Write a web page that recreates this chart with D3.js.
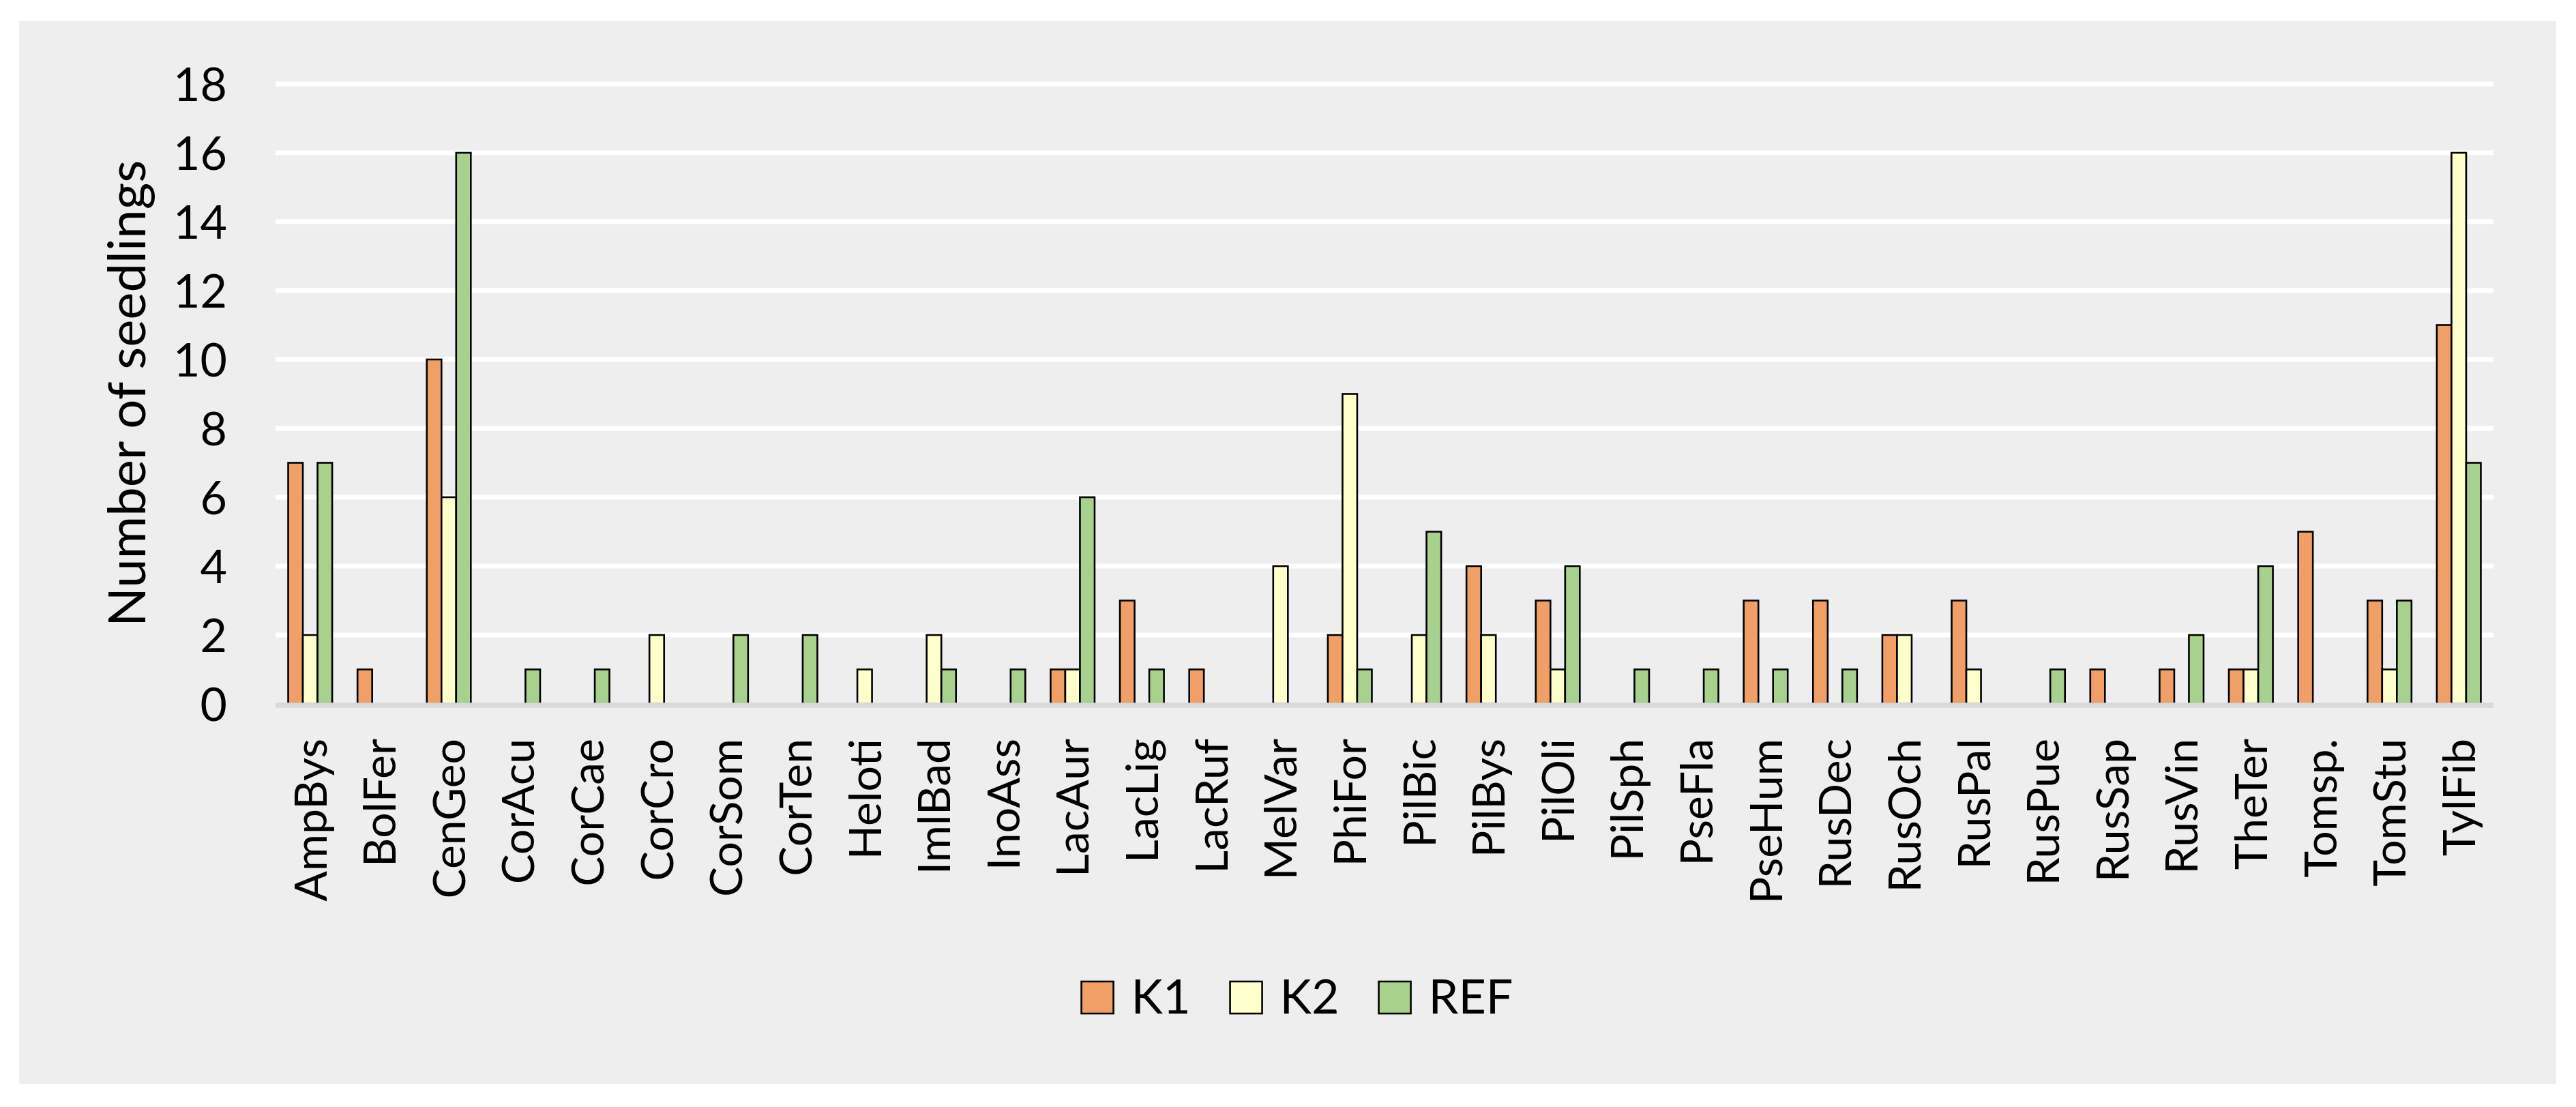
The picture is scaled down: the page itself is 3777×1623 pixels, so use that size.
<!DOCTYPE html>
<html><head><meta charset="utf-8">
<script src="https://cdn.jsdelivr.net/npm/d3@7"></script>
<style>html,body{margin:0;padding:0;background:#fff;} svg{display:block;}</style>
</head><body>
<svg id="chart" width="3777" height="1623"></svg>
<script>
const categories = ["AmpBys","BolFer","CenGeo","CorAcu","CorCae","CorCro","CorSom","CorTen","Heloti","ImlBad","InoAss","LacAur","LacLig","LacRuf","MelVar","PhiFor","PilBic","PilBys","PilOli","PilSph","PseFla","PseHum","RusDec","RusOch","RusPal","RusPue","RusSap","RusVin","TheTer","Tomsp.","TomStu","TylFib"];
const k1  = [7,1,10,0,0,0,0,0,0,0,0,1,3,1,0,2,0,4,3,0,0,3,3,2,3,0,1,1,1,5,3,11];
const k2  = [2,0,6,0,0,2,0,0,1,2,0,1,0,0,4,9,2,2,1,0,0,0,0,2,1,0,0,0,1,0,1,16];
const ref = [7,0,16,1,1,0,2,2,0,1,1,6,1,0,0,1,5,0,4,1,1,1,1,0,0,1,0,2,4,0,3,7];
const seriesNames = ["K1","K2","REF"];
const seriesColors = ["#F0A066","#FFFFCC","#A9D18E"];
const yTicks = [0,2,4,6,8,10,12,14,16,18];
const yTitle = "Number of seedlings";

const FONT = "Lato, 'Open Sans', sans-serif";
const svg = d3.select("#chart");
const W = 3777, H = 1623;
const plot = {left: 404, right: 3656, top: 123, bottom: 1032};

svg.append("rect").attr("x",0).attr("y",0).attr("width",W).attr("height",H).attr("fill","#ffffff");
svg.append("rect").attr("x",28).attr("y",31).attr("width",3720).attr("height",1558).attr("fill","#EEEEEE");

const x = d3.scaleBand().domain(categories).range([plot.left, plot.right]).paddingInner(0.365).paddingOuter(0.1825);
const xs = d3.scaleBand().domain(seriesNames).range([0, x.bandwidth()]);
const y = d3.scaleLinear().domain([0,18]).range([plot.bottom, plot.top]);

// gridlines
svg.append("g").selectAll("line").data(yTicks.filter(t=>t>0)).join("line")
  .attr("x1",plot.left).attr("x2",plot.right)
  .attr("y1",d=>y(d)).attr("y2",d=>y(d))
  .attr("stroke","#ffffff").attr("stroke-width",7);

// y axis labels
const yAxis = svg.append("g").attr("transform",`translate(${plot.left},0)`)
  .call(d3.axisLeft(y).tickValues(yTicks).tickSize(0).tickPadding(71).tickFormat(d3.format("d")));
yAxis.select(".domain").remove();
yAxis.selectAll("text").attr("dy","0.36em").attr("fill","#000").style("font-family",FONT).style("font-size","68px");

// bars
const seriesData = [k1,k2,ref];
const rows = [];
categories.forEach((c,i)=>{ seriesNames.forEach((s,j)=>{ rows.push({cat:c, series:s, value:seriesData[j][i], color:seriesColors[j]}); }); });
svg.append("g").selectAll("rect").data(rows.filter(r=>r.value>0)).join("rect")
  .attr("x",d=>x(d.cat)+xs(d.series))
  .attr("width",xs.bandwidth())
  .attr("y",d=>y(d.value))
  .attr("height",d=>y(0)-y(d.value))
  .attr("fill",d=>d.color)
  .attr("stroke","#000").attr("stroke-width",2.6);

// x axis line
svg.append("line").attr("x1",plot.left).attr("x2",plot.right)
  .attr("y1",y(0)+2).attr("y2",y(0)+2).attr("stroke","#D9D9D9").attr("stroke-width",7.5);

// x axis labels
const xAxis = svg.append("g").attr("transform",`translate(0,${y(0)})`)
  .call(d3.axisBottom(x).tickSize(0));
xAxis.select(".domain").remove();
xAxis.selectAll("text")
  .attr("transform","rotate(-90)")
  .attr("x",-51).attr("y",0).attr("dy","0.36em")
  .style("text-anchor","end")
  .attr("fill","#000").style("font-family",FONT).style("font-size","66px");

// y title
svg.append("text").attr("transform","translate(213,577) rotate(-90)")
  .attr("text-anchor","middle").attr("fill","#000")
  .style("font-family",FONT).style("font-size","76px").text(yTitle);

// legend
const leg = svg.append("g");
const sw = 47, gapText = 26, gapItem = 58, legCenter = 1902, legBase = 1486;
const items = leg.selectAll("g").data(seriesNames).join("g");
items.append("rect").attr("width",sw).attr("height",sw).attr("y",legBase-sw)
  .attr("fill",(d,i)=>seriesColors[i]).attr("stroke","#000").attr("stroke-width",2.6);
items.append("text").attr("x",sw+gapText).attr("y",legBase).attr("fill","#000")
  .style("font-family",FONT).style("font-size","70px").text(d=>d);
let widths = [];
items.each(function(){ widths.push(sw+gapText+d3.select(this).select("text").node().getComputedTextLength()); });
const total = d3.sum(widths) + gapItem*(widths.length-1);
let cx = legCenter - total/2;
items.each(function(d,i){ d3.select(this).attr("transform",`translate(${cx},0)`); cx += widths[i]+gapItem; });
</script>
</body></html>
